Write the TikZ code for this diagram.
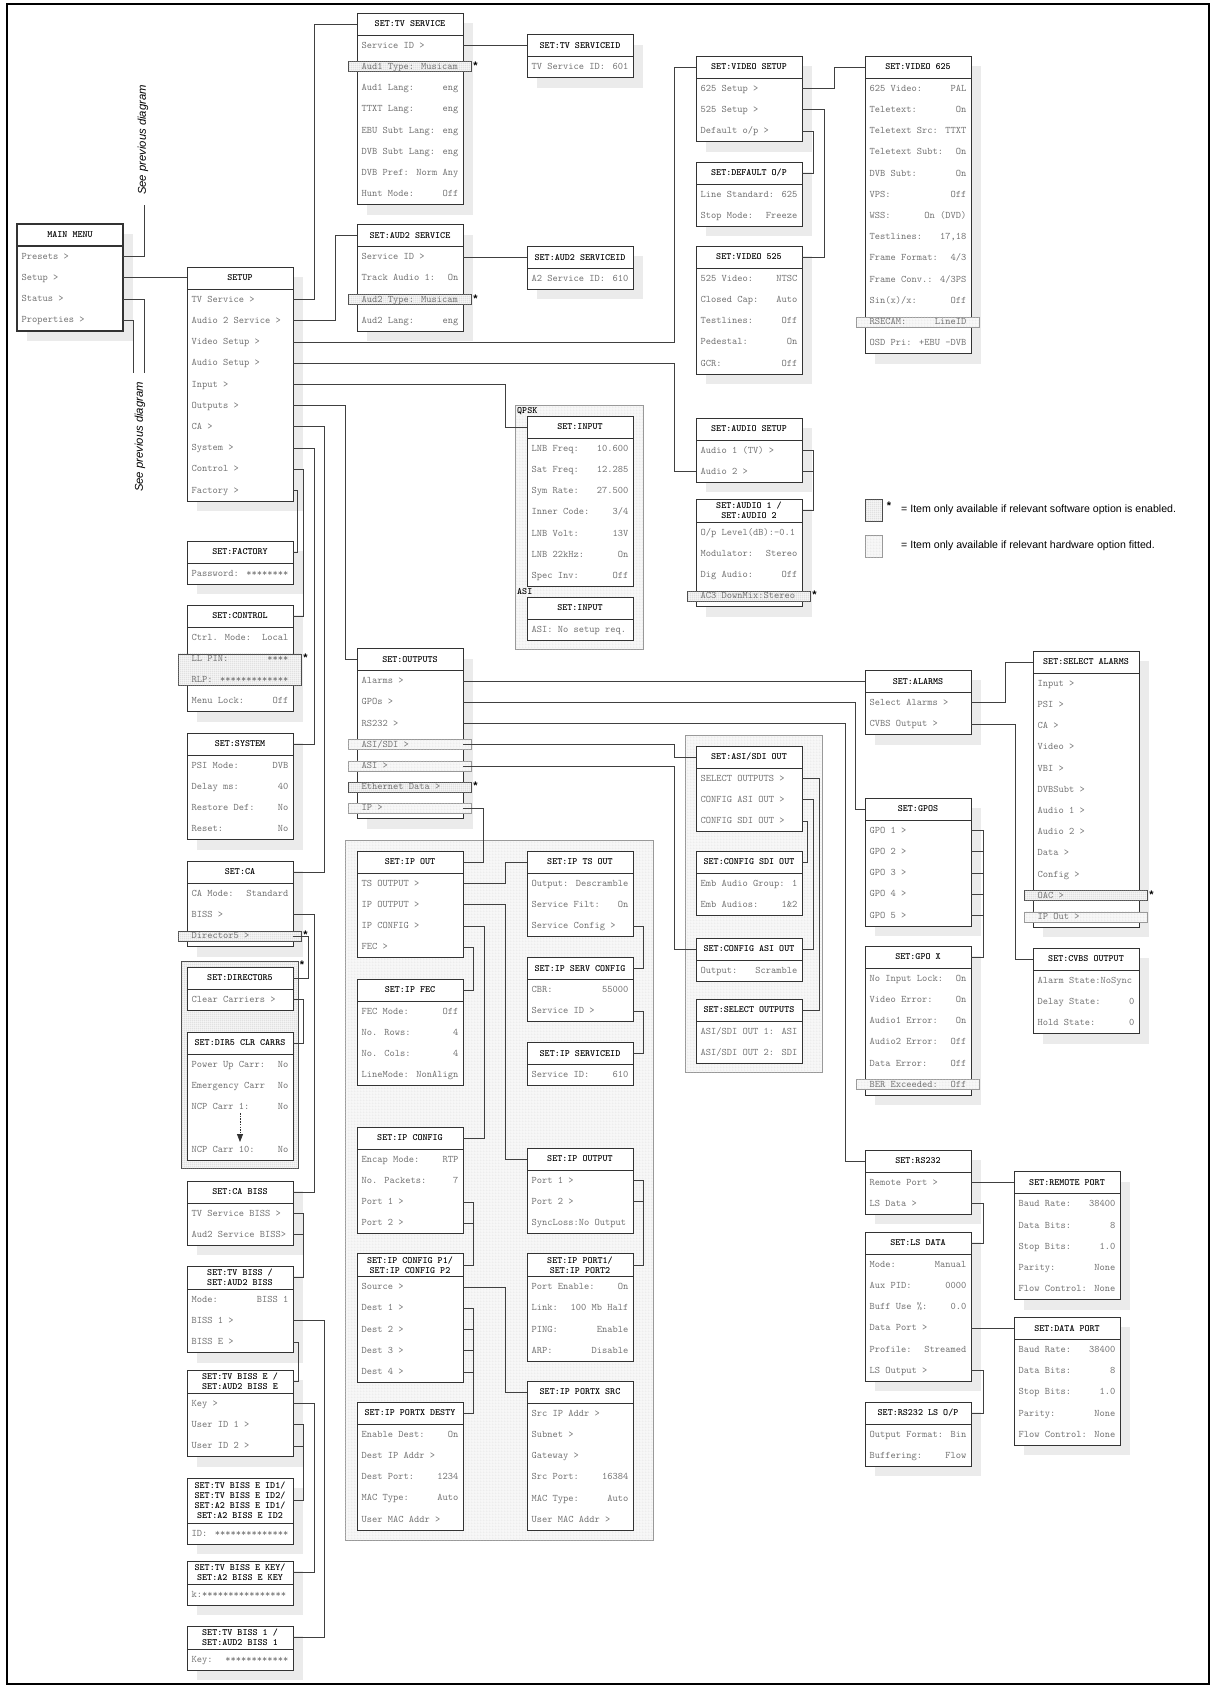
\documentclass[tikz,border=0pt]{standalone}
\usepackage{fontspec}
\setmainfont{Liberation Sans}
\usetikzlibrary{patterns,arrows.meta}

\pgfdeclarepatternformonly{swgrid}{\pgfpointorigin}{\pgfqpoint{2.2pt}{2.2pt}}{\pgfqpoint{2.2pt}{2.2pt}}{%
  \pgfsetlinewidth{0.3pt}%
  \pgfpathmoveto{\pgfqpoint{0pt}{0.15pt}}\pgfpathlineto{\pgfqpoint{2.2pt}{0.15pt}}%
  \pgfpathmoveto{\pgfqpoint{0.15pt}{0pt}}\pgfpathlineto{\pgfqpoint{0.15pt}{2.2pt}}%
  \pgfusepath{stroke}}
\pgfdeclarepatternformonly{hwgrid}{\pgfpointorigin}{\pgfqpoint{3pt}{3pt}}{\pgfqpoint{3pt}{3pt}}{%
  \pgfsetlinewidth{0.3pt}%
  \pgfpathmoveto{\pgfqpoint{0pt}{0.15pt}}\pgfpathlineto{\pgfqpoint{3pt}{0.15pt}}%
  \pgfpathmoveto{\pgfqpoint{0.15pt}{0pt}}\pgfpathlineto{\pgfqpoint{0.15pt}{3pt}}%
  \pgfusepath{stroke}}

\def\MRP{21.2}
\def\MBW{106}

\tikzset{
  boxline/.style={draw=black!80},
  shadowc/.style={fill=black!8},
  conn/.style={draw=black!75, line width=0.8pt},
  headtxt/.style={font=\ttfamily\bfseries\fontsize{9.6}{10}\selectfont, inner sep=0pt, align=center, text=black},
  rowtxt/.style={font=\ttfamily\fontsize{10}{11}\selectfont, text=black!55, inner sep=0pt},
  swfill/.style={fill=black!4, postaction={pattern=swgrid, pattern color=black!30}, draw=black!70, line width=0.6pt},
  hwfill/.style={fill=black!3, postaction={pattern=hwgrid, pattern color=black!16}, draw=black!40, line width=0.6pt},
  ast/.style={font=\bfseries\fontsize{11}{11}\selectfont, inner sep=0pt},
  lbl/.style={font=\ttfamily\bfseries\fontsize{9.6}{10}\selectfont, inner sep=0pt},
  legtxt/.style={font=\fontsize{10.6}{12}\selectfont, inner sep=0pt},
  seetxt/.style={font=\itshape\fontsize{11.3}{12}\selectfont, inner sep=0pt},
}

% #1 S/N/T, #2 name, #3 x, #4 y, #5 header height, #6 rows, #7 title
\newcommand\MBox[7]{%
  \expandafter\xdef\csname bx@#2\endcsname{#3}%
  \expandafter\xdef\csname by@#2\endcsname{#4}%
  \expandafter\xdef\csname bh@#2\endcsname{#5}%
  \pgfmathsetmacro\mbR{#3+\MBW}%
  \pgfmathsetmacro\mbB{#4+#5+#6*\MRP}%
  \pgfmathsetmacro\mbH{#4+#5}%
  \pgfmathsetmacro\mbC{#4+#5/2}%
  \pgfmathsetmacro\mbM{#3+\MBW/2}%
  \if#1N\else\fill[shadowc] (#3+10,#4+10) rectangle (\mbR+10,\mbB+10);\fi
  \if#1T\def\mbLW{2.2pt}\else\def\mbLW{0.9pt}\fi
  \draw[boxline,line width=\mbLW,fill=white] (#3,#4) rectangle (\mbR,\mbB);
  \draw[boxline,line width=\mbLW] (#3,\mbH) -- (\mbR,\mbH);
  \node[headtxt] (#2) at (\mbM,\mbC) {#7};
  \coordinate (#2-hl) at (#3,\mbC);
  \coordinate (#2-hr) at (\mbR,\mbC);
}
% #1 name, #2 row, #3 left text, #4 right text
\newcommand\MRow[4]{%
  \pgfmathsetmacro\mrY{\csname by@#1\endcsname+\csname bh@#1\endcsname+(#2-0.5)*\MRP}%
  \pgfmathsetmacro\mrL{\csname bx@#1\endcsname}%
  \pgfmathsetmacro\mrR{\csname bx@#1\endcsname+\MBW}%
  \coordinate (#1-l#2) at (\mrL,\mrY);
  \coordinate (#1-r#2) at (\mrR,\mrY);
  \node[rowtxt,anchor=mid west] (#1-t#2) at (\mrL+4.5,\mrY) {#3};
  \node[rowtxt,anchor=mid east] (#1-v#2) at (\mrR-4.5,\mrY) {#4};
}
% #1 style, #2 name, #3 from row, #4 to row, #5 star 1/0
\newcommand\Strip[5]{%
  \pgfmathsetmacro\stA{\csname by@#2\endcsname+\csname bh@#2\endcsname+(#3-0.5)*\MRP-5}%
  \pgfmathsetmacro\stB{\csname by@#2\endcsname+\csname bh@#2\endcsname+(#4-0.5)*\MRP+5}%
  \pgfmathsetmacro\stL{\csname bx@#2\endcsname-9}%
  \pgfmathsetmacro\stR{\csname bx@#2\endcsname+\MBW+8}%
  \path[#1] (\stL,\stA) rectangle (\stR,\stB);
  \if#51\node[ast,anchor=base] (#2-ast#3) at (\stR+4.5,\stA+7.5) {*};\fi
}

\begin{document}
\begin{tikzpicture}[x=1pt,y=-1pt]
\useasboundingbox (0,0) rectangle (1213,1686);
\fill[white] (0,0) rectangle (1213,1686);
\draw[line width=2.2pt] (7,4) rectangle (1209,1684);

% ---------- option regions ----------
\path[hwfill] (515,405) rectangle (643,649);
\node[lbl,anchor=west] (qpsklbl) at (517,411) {QPSK};
\node[lbl,anchor=west] (asilbl) at (517,592) {ASI};
\path[hwfill] (685,735) rectangle (822,1072);
\path[hwfill] (345,840) rectangle (653,1540);
\path[swfill] (181,961) rectangle (298,1168);
\node[ast,anchor=base] (dir5ast) at (302,968) {*};

% ---------- main / setup ----------
\MBox{T}{main}{17}{224}{22}{4}{MAIN MENU}
\MRow{main}{1}{Presets >}{}
\MRow{main}{2}{Setup >}{}
\MRow{main}{3}{Status >}{}
\MRow{main}{4}{Properties >}{}

\node[seetxt,rotate=90] (see1) at (143,140) {See previous diagram};
\node[seetxt,rotate=90] (see2) at (140,437) {See previous diagram};
\coordinate (see1end) at (144,205);
\coordinate (see2a) at (144,373);
\coordinate (see2b) at (133,373);

\MBox{S}{setup}{187}{267}{22}{10}{SETUP}
\MRow{setup}{1}{TV Service >}{}
\MRow{setup}{2}{Audio 2 Service >}{}
\MRow{setup}{3}{Video Setup >}{}
\MRow{setup}{4}{Audio Setup >}{}
\MRow{setup}{5}{Input >}{}
\MRow{setup}{6}{Outputs >}{}
\MRow{setup}{7}{CA >}{}
\MRow{setup}{8}{System >}{}
\MRow{setup}{9}{Control >}{}
\MRow{setup}{10}{Factory >}{}

% ---------- TV / AUD2 service ----------
\MBox{S}{tvs}{357}{13}{22}{8}{SET:TV SERVICE}
\Strip{swfill}{tvs}{2}{2}{1}
\MRow{tvs}{1}{Service ID >}{}
\MRow{tvs}{2}{Aud1 Type: Musicam}{}
\MRow{tvs}{3}{Aud1 Lang:}{eng}
\MRow{tvs}{4}{TTXT Lang:}{eng}
\MRow{tvs}{5}{EBU Subt Lang:}{eng}
\MRow{tvs}{6}{DVB Subt Lang:}{eng}
\MRow{tvs}{7}{DVB Pref:}{Norm Any}
\MRow{tvs}{8}{Hunt Mode:}{Off}

\MBox{S}{tvsid}{527}{34.6}{22}{1}{SET:TV SERVICEID}
\MRow{tvsid}{1}{TV Service ID:}{601}

\MBox{S}{a2s}{357}{224.5}{22}{4}{SET:AUD2 SERVICE}
\Strip{swfill}{a2s}{3}{3}{1}
\MRow{a2s}{1}{Service ID >}{}
\MRow{a2s}{2}{Track Audio 1:}{On}
\MRow{a2s}{3}{Aud2 Type: Musicam}{}
\MRow{a2s}{4}{Aud2 Lang:}{eng}

\MBox{S}{a2sid}{527}{246.1}{22}{1}{SET:AUD2 SERVICEID}
\MRow{a2sid}{1}{A2 Service ID:}{610}

% ---------- video / audio ----------
\MBox{S}{vset}{696}{56}{22}{3}{SET:VIDEO SETUP}
\MRow{vset}{1}{625 Setup >}{}
\MRow{vset}{2}{525 Setup >}{}
\MRow{vset}{3}{Default o/p >}{}

\MBox{S}{defop}{696}{162}{22}{2}{SET:DEFAULT O/P}
\MRow{defop}{1}{Line Standard:}{625}
\MRow{defop}{2}{Stop Mode:}{Freeze}

\MBox{S}{v525}{696}{246}{22}{5}{SET:VIDEO 525}
\MRow{v525}{1}{525 Video:}{NTSC}
\MRow{v525}{2}{Closed Cap:}{Auto}
\MRow{v525}{3}{Testlines:}{Off}
\MRow{v525}{4}{Pedestal:}{On}
\MRow{v525}{5}{GCR:}{Off}

\MBox{S}{v625}{865}{56}{22}{13}{SET:VIDEO 625}
\Strip{hwfill}{v625}{12}{12}{0}
\MRow{v625}{1}{625 Video:}{PAL}
\MRow{v625}{2}{Teletext:}{On}
\MRow{v625}{3}{Teletext Src:}{TTXT}
\MRow{v625}{4}{Teletext Subt:}{On}
\MRow{v625}{5}{DVB Subt:}{On}
\MRow{v625}{6}{VPS:}{Off}
\MRow{v625}{7}{WSS:}{On (DVD)}
\MRow{v625}{8}{Testlines:}{17,18}
\MRow{v625}{9}{Frame Format:}{4/3}
\MRow{v625}{10}{Frame Conv.:}{4/3PS}
\MRow{v625}{11}{Sin(x)/x:}{Off}
\MRow{v625}{12}{RSECAM:}{LineID}
\MRow{v625}{13}{OSD Pri:}{+EBU -DVB}

\MBox{S}{aset}{696}{418}{22}{2}{SET:AUDIO SETUP}
\MRow{aset}{1}{Audio 1 (TV) >}{}
\MRow{aset}{2}{Audio 2 >}{}

\MBox{S}{a12}{696}{499}{23}{4}{SET:AUDIO 1 /\\SET:AUDIO 2}
\Strip{swfill}{a12}{4}{4}{1}
\MRow{a12}{1}{O/p Level(dB):-0.1}{}
\MRow{a12}{2}{Modulator:}{Stereo}
\MRow{a12}{3}{Dig Audio:}{Off}
\MRow{a12}{4}{AC3 DownMix:Stereo}{}

% ---------- input ----------
\MBox{N}{inq}{527}{416}{22}{7}{SET:INPUT}
\MRow{inq}{1}{LNB Freq:}{10.600}
\MRow{inq}{2}{Sat Freq:}{12.285}
\MRow{inq}{3}{Sym Rate:}{27.500}
\MRow{inq}{4}{Inner Code:}{3/4}
\MRow{inq}{5}{LNB Volt:}{13V}
\MRow{inq}{6}{LNB 22kHz:}{On}
\MRow{inq}{7}{Spec Inv:}{Off}

\MBox{N}{ina}{527}{597}{22}{1}{SET:INPUT}
\MRow{ina}{1}{ASI: No setup req.}{}

% ---------- legend ----------
\path[swfill] (865,499) rectangle (882,521);
\node[ast,anchor=base] (legast) at (889,509) {*};
\node[legtxt,anchor=west] (leg1) at (901,509.5) {= Item only available if relevant software option is enabled.};
\path[hwfill] (865,535) rectangle (882,557);
\node[legtxt,anchor=west] (leg2) at (901,546) {= Item only available if relevant hardware option fitted.};

% ---------- outputs ----------
\MBox{S}{outp}{357}{648.5}{22}{7}{SET:OUTPUTS}
\Strip{hwfill}{outp}{4}{4}{0}
\Strip{hwfill}{outp}{5}{5}{0}
\Strip{swfill}{outp}{6}{6}{1}
\Strip{hwfill}{outp}{7}{7}{0}
\MRow{outp}{1}{Alarms >}{}
\MRow{outp}{2}{GPOs >}{}
\MRow{outp}{3}{RS232 >}{}
\MRow{outp}{4}{ASI/SDI >}{}
\MRow{outp}{5}{ASI >}{}
\MRow{outp}{6}{Ethernet Data >}{}
\MRow{outp}{7}{IP >}{}

\MBox{S}{alarms}{865}{670.1}{22}{2}{SET:ALARMS}
\MRow{alarms}{1}{Select Alarms >}{}
\MRow{alarms}{2}{CVBS Output >}{}

\MBox{S}{selal}{1033}{651}{22}{12}{SET:SELECT ALARMS}
\Strip{swfill}{selal}{11}{11}{1}
\Strip{hwfill}{selal}{12}{12}{0}
\MRow{selal}{1}{Input >}{}
\MRow{selal}{2}{PSI >}{}
\MRow{selal}{3}{CA >}{}
\MRow{selal}{4}{Video >}{}
\MRow{selal}{5}{VBI >}{}
\MRow{selal}{6}{DVBSubt >}{}
\MRow{selal}{7}{Audio 1 >}{}
\MRow{selal}{8}{Audio 2 >}{}
\MRow{selal}{9}{Data >}{}
\MRow{selal}{10}{Config >}{}
\MRow{selal}{11}{OAC >}{}
\MRow{selal}{12}{IP Out >}{}

\MBox{S}{gpos}{865}{798}{22}{5}{SET:GPOS}
\MRow{gpos}{1}{GPO 1 >}{}
\MRow{gpos}{2}{GPO 2 >}{}
\MRow{gpos}{3}{GPO 3 >}{}
\MRow{gpos}{4}{GPO 4 >}{}
\MRow{gpos}{5}{GPO 5 >}{}

\MBox{S}{gpox}{865}{946}{22}{6}{SET:GPO X}
\Strip{hwfill}{gpox}{6}{6}{0}
\MRow{gpox}{1}{No Input Lock:}{On}
\MRow{gpox}{2}{Video Error:}{On}
\MRow{gpox}{3}{Audio1 Error:}{On}
\MRow{gpox}{4}{Audio2 Error:}{Off}
\MRow{gpox}{5}{Data Error:}{Off}
\MRow{gpox}{6}{BER Exceeded:}{Off}

\MBox{S}{cvbs}{1033}{948}{22}{3}{SET:CVBS OUTPUT}
\MRow{cvbs}{1}{Alarm State:NoSync}{}
\MRow{cvbs}{2}{Delay State:}{0}
\MRow{cvbs}{3}{Hold State:}{0}

\MBox{N}{asisdi}{696}{746}{22}{3}{SET:ASI/SDI OUT}
\MRow{asisdi}{1}{SELECT OUTPUTS >}{}
\MRow{asisdi}{2}{CONFIG ASI OUT >}{}
\MRow{asisdi}{3}{CONFIG SDI OUT >}{}

\MBox{N}{cfgsdi}{696}{851}{22}{2}{SET:CONFIG SDI OUT}
\MRow{cfgsdi}{1}{Emb Audio Group:}{1}
\MRow{cfgsdi}{2}{Emb Audios:}{1\&2}

\MBox{N}{cfgasi}{696}{938}{22}{1}{SET:CONFIG ASI OUT}
\MRow{cfgasi}{1}{Output:}{Scramble}

\MBox{N}{selout}{696}{999}{22}{2}{SET:SELECT OUTPUTS}
\MRow{selout}{1}{ASI/SDI OUT 1:}{ASI}
\MRow{selout}{2}{ASI/SDI OUT 2:}{SDI}

\MBox{S}{rs232}{865}{1150}{22}{2}{SET:RS232}
\MRow{rs232}{1}{Remote Port >}{}
\MRow{rs232}{2}{LS Data >}{}

\MBox{S}{remote}{1014}{1171.6}{22}{5}{SET:REMOTE PORT}
\MRow{remote}{1}{Baud Rate:}{38400}
\MRow{remote}{2}{Data Bits:}{8}
\MRow{remote}{3}{Stop Bits:}{1.0}
\MRow{remote}{4}{Parity:}{None}
\MRow{remote}{5}{Flow Control:}{None}

\MBox{S}{lsdata}{865}{1232}{22}{6}{SET:LS DATA}
\MRow{lsdata}{1}{Mode:}{Manual}
\MRow{lsdata}{2}{Aux PID:}{0000}
\MRow{lsdata}{3}{Buff Use \%:}{0.0}
\MRow{lsdata}{4}{Data Port >}{}
\MRow{lsdata}{5}{Profile:}{Streamed}
\MRow{lsdata}{6}{LS Output >}{}

\MBox{S}{dport}{1014}{1317.2}{22}{5}{SET:DATA PORT}
\MRow{dport}{1}{Baud Rate:}{38400}
\MRow{dport}{2}{Data Bits:}{8}
\MRow{dport}{3}{Stop Bits:}{1.0}
\MRow{dport}{4}{Parity:}{None}
\MRow{dport}{5}{Flow Control:}{None}

\MBox{S}{lsop}{865}{1402}{22}{2}{SET:RS232 LS O/P}
\MRow{lsop}{1}{Output Format:}{Bin}
\MRow{lsop}{2}{Buffering:}{Flow}

% ---------- IP ----------
\MBox{N}{ipout}{357}{851}{22}{4}{SET:IP OUT}
\MRow{ipout}{1}{TS OUTPUT >}{}
\MRow{ipout}{2}{IP OUTPUT >}{}
\MRow{ipout}{3}{IP CONFIG >}{}
\MRow{ipout}{4}{FEC >}{}

\MBox{N}{ipts}{527}{851}{22}{3}{SET:IP TS OUT}
\MRow{ipts}{1}{Output:}{Descramble}
\MRow{ipts}{2}{Service Filt:}{On}
\MRow{ipts}{3}{Service Config >}{}

\MBox{N}{ipserv}{527}{957.3}{22}{2}{SET:IP SERV CONFIG}
\MRow{ipserv}{1}{CBR:}{55000}
\MRow{ipserv}{2}{Service ID >}{}

\MBox{N}{ipsid}{527}{1042.3}{22}{1}{SET:IP SERVICEID}
\MRow{ipsid}{1}{Service ID:}{610}

\MBox{N}{ipfec}{357}{979}{22}{4}{SET:IP FEC}
\MRow{ipfec}{1}{FEC Mode:}{Off}
\MRow{ipfec}{2}{No. Rows:}{4}
\MRow{ipfec}{3}{No. Cols:}{4}
\MRow{ipfec}{4}{LineMode:}{NonAlign}

\MBox{N}{ipcfg}{357}{1127}{22}{4}{SET:IP CONFIG}
\MRow{ipcfg}{1}{Encap Mode:}{RTP}
\MRow{ipcfg}{2}{No. Packets:}{7}
\MRow{ipcfg}{3}{Port 1 >}{}
\MRow{ipcfg}{4}{Port 2 >}{}

\MBox{N}{ipoutp}{527}{1148}{22}{3}{SET:IP OUTPUT}
\MRow{ipoutp}{1}{Port 1 >}{}
\MRow{ipoutp}{2}{Port 2 >}{}
\MRow{ipoutp}{3}{SyncLoss:No Output}{}

\MBox{N}{ipcp}{357}{1253.5}{23}{5}{SET:IP CONFIG P1/\\SET:IP CONFIG P2}
\MRow{ipcp}{1}{Source >}{}
\MRow{ipcp}{2}{Dest 1 >}{}
\MRow{ipcp}{3}{Dest 2 >}{}
\MRow{ipcp}{4}{Dest 3 >}{}
\MRow{ipcp}{5}{Dest 4 >}{}

\MBox{N}{ipport}{527}{1253.5}{23}{4}{SET:IP PORT1/\\SET:IP PORT2}
\MRow{ipport}{1}{Port Enable:}{On}
\MRow{ipport}{2}{Link:}{100 Mb Half}
\MRow{ipport}{3}{PING:}{Enable}
\MRow{ipport}{4}{ARP:}{Disable}

\MBox{N}{ipsrc}{527}{1381}{22}{6}{SET:IP PORTX SRC}
\MRow{ipsrc}{1}{Src IP Addr >}{}
\MRow{ipsrc}{2}{Subnet >}{}
\MRow{ipsrc}{3}{Gateway >}{}
\MRow{ipsrc}{4}{Src Port:}{16384}
\MRow{ipsrc}{5}{MAC Type:}{Auto}
\MRow{ipsrc}{6}{User MAC Addr >}{}

\MBox{N}{ipdest}{357}{1402}{22}{5}{SET:IP PORTX DESTY}
\MRow{ipdest}{1}{Enable Dest:}{On}
\MRow{ipdest}{2}{Dest IP Addr >}{}
\MRow{ipdest}{3}{Dest Port:}{1234}
\MRow{ipdest}{4}{MAC Type:}{Auto}
\MRow{ipdest}{5}{User MAC Addr >}{}

% ---------- left column ----------
\MBox{S}{factory}{187}{541}{22}{1}{SET:FACTORY}
\MRow{factory}{1}{Password:}{********}

\MBox{S}{control}{187}{605}{22}{4}{SET:CONTROL}
\Strip{swfill}{control}{2}{3}{1}
\MRow{control}{1}{Ctrl. Mode:}{Local}
\MRow{control}{2}{LL PIN:}{****}
\MRow{control}{3}{RLP:}{*************}
\MRow{control}{4}{Menu Lock:}{Off}

\MBox{S}{system}{187}{733}{22}{4}{SET:SYSTEM}
\MRow{system}{1}{PSI Mode:}{DVB}
\MRow{system}{2}{Delay ms:}{40}
\MRow{system}{3}{Restore Def:}{No}
\MRow{system}{4}{Reset:}{No}

\MBox{S}{ca}{187}{861}{22}{3}{SET:CA}
\Strip{swfill}{ca}{3}{3}{1}
\MRow{ca}{1}{CA Mode:}{Standard}
\MRow{ca}{2}{BISS >}{}
\MRow{ca}{3}{Director5 >}{}

\MBox{N}{dir5}{187}{967}{22}{1}{SET:DIRECTOR5}
\MRow{dir5}{1}{Clear Carriers >}{}

\MBox{N}{clr}{187}{1032}{22}{5}{SET:DIR5 CLR CARRS}
\MRow{clr}{1}{Power Up Carr:}{No}
\MRow{clr}{2}{Emergency Carr}{No}
\MRow{clr}{3}{NCP Carr 1:}{No}
\MRow{clr}{5}{NCP Carr 10:}{No}
\coordinate (arrtop) at (240,1113);
\coordinate (arrbot) at (240,1142);
\draw[black!80, line width=0.8pt, dash pattern=on 1.5pt off 1.2pt, -{Triangle[width=6pt,length=8pt]}] (arrtop) -- (arrbot);

\MBox{S}{cabiss}{187}{1181}{22}{2}{SET:CA BISS}
\MRow{cabiss}{1}{TV Service BISS >}{}
\MRow{cabiss}{2}{Aud2 Service BISS>}{}

\MBox{S}{tvbiss}{187}{1266}{23}{3}{SET:TV BISS /\\SET:AUD2 BISS}
\MRow{tvbiss}{1}{Mode:}{BISS 1}
\MRow{tvbiss}{2}{BISS 1 >}{}
\MRow{tvbiss}{3}{BISS E >}{}

\MBox{S}{tvbisse}{187}{1370}{23}{3}{SET:TV BISS E /\\SET:AUD2 BISS E}
\MRow{tvbisse}{1}{Key >}{}
\MRow{tvbisse}{2}{User ID 1 >}{}
\MRow{tvbisse}{3}{User ID 2 >}{}

\MBox{S}{eid}{187}{1478}{45}{1}{SET:TV BISS E ID1/\\SET:TV BISS E ID2/\\SET:A2 BISS E ID1/\\SET:A2 BISS E ID2}
\MRow{eid}{1}{ID:}{**************}

\MBox{S}{ekey}{187}{1561}{23}{1}{SET:TV BISS E KEY/\\SET:A2 BISS E KEY}
\MRow{ekey}{1}{k:****************}{}

\MBox{S}{biss1}{187}{1626}{23}{1}{SET:TV BISS 1 /\\SET:AUD2 BISS 1}
\MRow{biss1}{1}{Key:}{************}

% ---------- connectors ----------
\begin{scope}[conn]
\draw (main-r1) -| (see1end);
\draw (main-r2) -- (main-r2 -| setup-hl);
\draw (main-r3) -| (see2a);
\draw (main-r4) -| (see2b);

\draw (setup-r1) -- ++(21,0) |- (tvs-hl);
\draw (setup-r2) -- ++(42,0) |- (a2s-hl);
\draw (setup-r3) -- ++(381,0) |- (vset-hl);
\draw (setup-r4) -- ++(381,0) |- (aset-l2);
\draw (setup-r5) -- ++(212,0) |- (inq-hl);
\draw (setup-r6) -- ++(52,0) |- (outp-hl);
\draw (setup-r7) -- ++(31,0) |- (ca-hr);
\draw (setup-r8) -- ++(21,0) |- (system-hr);
\draw (setup-r9) -- ++(10.3,0) |- (control-hr);
\draw (setup-r10) -- ++(4.7,0) |- (factory-hr);

\draw (tvs-r1) -- (tvs-r1 -| tvsid-hl);
\draw (a2s-r1) -- (a2s-r1 -| a2sid-hl);
\draw (vset-r1) -- ++(32,0) |- (v625-hl);
\draw (vset-r2) -- ++(22.3,0) |- (v525-hr);
\draw (vset-r3) -- ++(11.3,0) |- (defop-hr);
\draw (aset-r1) -- ++(11,0) |- (a12-hr);
\draw (aset-r2) -- ++(11,0);

\draw (outp-r1) -- (outp-r1 -| alarms-hl);
\draw (outp-r2) -- ++(392,0) |- (gpos-hl);
\draw (outp-r3) -- ++(382,0) |- (rs232-hl);
\draw (outp-r4) -- ++(211,0) |- (asisdi-hl);
\draw (outp-r5) -- ++(211,0) |- (cfgasi-hl);
\draw (outp-r7) -- ++(20,0) |- (ipout-hr);
\draw (alarms-r1) -- ++(34,0) |- (selal-hl);
\draw (alarms-r2) -- ++(44,0) |- (cvbs-hl);
\draw (gpos-r1) -- ++(12,0) |- (gpox-hr);
\foreach \i in {2,...,5} \draw (gpos-r\i) -- ++(12,0);
\draw (asisdi-r1) -- ++(17,0) |- (selout-hr);
\draw (asisdi-r2) -- ++(11,0) |- (cfgasi-hr);
\draw (asisdi-r3) -- ++(5,0) |- (cfgsdi-hr);
\draw (rs232-r1) -- (rs232-r1 -| remote-hl);
\draw (rs232-r2) -- ++(12,0) |- (lsdata-hr);
\draw (lsdata-r4) -- (lsdata-r4 -| dport-hl);
\draw (lsdata-r6) -- ++(12,0) |- (lsop-hr);

\draw (ipout-r1) -- ++(42,0) |- (ipts-hl);
\draw (ipout-r2) -- ++(42,0) |- (ipoutp-hl);
\draw (ipout-r3) -- ++(21,0) |- (ipcfg-hr);
\draw (ipout-r4) -- ++(10,0) |- (ipfec-hr);
\draw (ipts-r3) -- ++(10.5,0) |- (ipserv-hr);
\draw (ipserv-r2) -- ++(10.5,0) |- (ipsid-hr);
\draw (ipcfg-r3) -- ++(10,0) |- (ipcp-hr);
\draw (ipcfg-r4) -- ++(10,0);
\draw (ipoutp-r1) -- ++(10.5,0) |- (ipport-hr);
\draw (ipoutp-r2) -- ++(10.5,0);
\draw (ipcp-r1) -- ++(42,0) |- (ipsrc-hl);
\draw (ipcp-r2) -- ++(10,0) |- (ipdest-hr);
\foreach \i in {3,4,5} \draw (ipcp-r\i) -- ++(10,0);

\draw (ca-r2) -- ++(21,0) |- (cabiss-hr);
\draw (ca-r3) -- ++(15,0) |- (dir5-hr);
\draw (dir5-r1) -- ++(10.3,0) |- (clr-hr);
\draw (cabiss-r1) -- ++(10.3,0) |- (tvbiss-hr);
\draw (cabiss-r2) -- ++(10.3,0);
\draw (tvbiss-r2) -- ++(31,0) |- (biss1-hr);
\draw (tvbiss-r3) -- ++(5,0) |- (tvbisse-hr);
\draw (tvbisse-r1) -- ++(21,0) |- (ekey-hr);
\draw (tvbisse-r2) -- ++(10.3,0) |- (eid-hr);
\draw (tvbisse-r3) -- ++(10.3,0);
\end{scope}
\end{tikzpicture}
\end{document}
